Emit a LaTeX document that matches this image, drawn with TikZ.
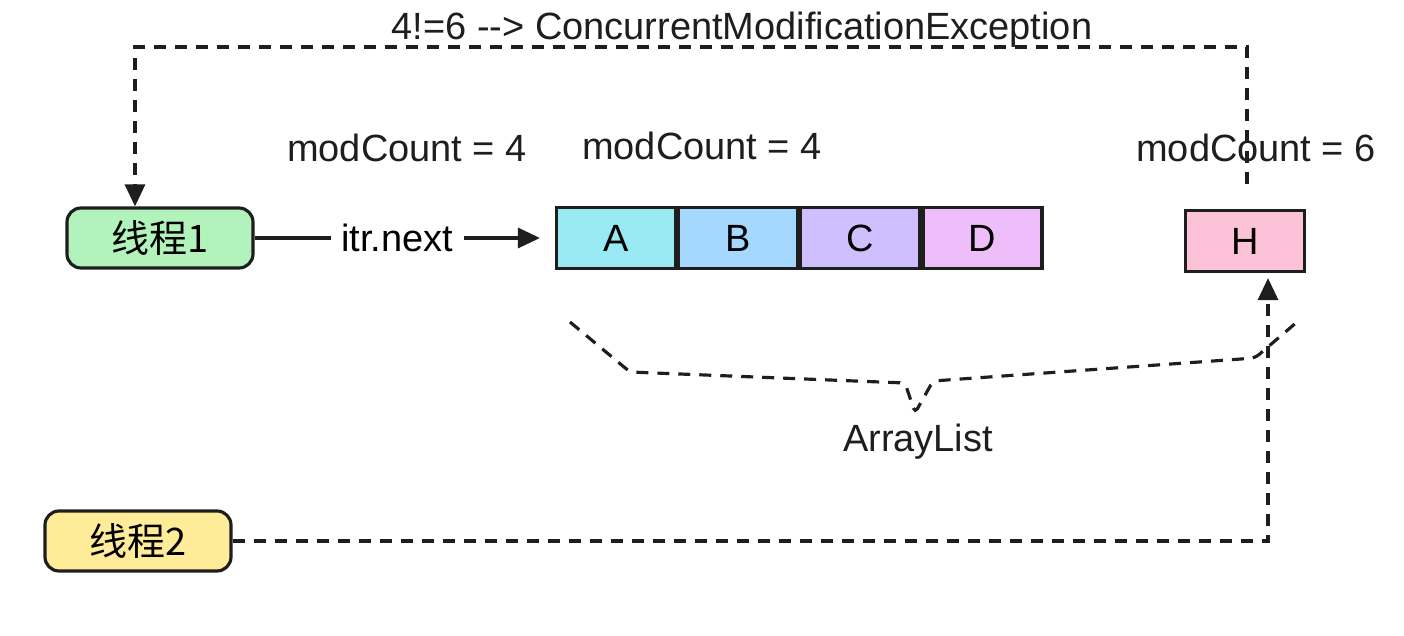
\documentclass[tikz,border=0pt]{standalone}
\usepackage{fontspec}
\setmainfont{Liberation Sans}
\newfontfamily\cjkfont{Noto Sans CJK SC}
\usetikzlibrary{arrows.meta,positioning}
\definecolor{ThreadGreen}{HTML}{B2F2BB}
\definecolor{ThreadYellow}{HTML}{FFEC99}
\definecolor{CellCyan}{HTML}{99E9F2}
\definecolor{CellBlue}{HTML}{A5D8FF}
\definecolor{CellViolet}{HTML}{D0BFFF}
\definecolor{CellPink}{HTML}{EEBEFA}
\definecolor{CellRose}{HTML}{FCC2D7}
\definecolor{StrokeInk}{HTML}{1E1E1E}

\begin{document}
\begin{tikzpicture}[
	font=\fontsize{10.8}{13}\selectfont,
	thread/.style={draw=StrokeInk, line width=0.9pt, rounded corners=1.4mm, minimum width=1.86cm, minimum height=0.60cm, inner sep=0pt, font=\fontsize{10.8}{13}\selectfont\cjkfont},
	cell/.style={draw=StrokeInk, line width=0.9pt, minimum width=1.19cm, minimum height=0.61cm, inner sep=0pt},
	call/.style={-{Triangle[length=2.2mm, width=2mm]}, draw=StrokeInk, line width=0.9pt},
	dashlink/.style={draw=StrokeInk, line width=0.9pt, dash pattern=on 1.2mm off 0.9mm},
	tag/.style={text=StrokeInk, inner sep=1pt}
]
\useasboundingbox (0,0) rectangle (14.04,-6.36);

\node[thread, fill=ThreadGreen] (thread1) at (1.60,-2.38) {线程1};
\node[thread, fill=ThreadYellow] (thread2) at (1.38,-5.41) {线程2};

\node[cell, fill=CellCyan] (cellA) at (6.16,-2.38) {A};
\node[cell, fill=CellBlue, right=0pt of cellA] (cellB) {B};
\node[cell, fill=CellViolet, right=0pt of cellB] (cellC) {C};
\node[cell, fill=CellPink, right=0pt of cellC] (cellD) {D};
\node[cell, fill=CellRose] (cellH) at (12.45,-2.41) {H};

\node[tag] (countold) at (4.07,-1.48) {modCount = 4};
\node[tag] (countlist) at (7.02,-1.46) {modCount = 4};
\node[tag] (countnew) at (12.56,-1.48) {modCount = 6};
\node[tag] (exception) at (7.42,-0.30) {4!=6 \mbox{-}\mbox{-}> ConcurrentModificationException};
\node[tag] (arraylist) at (9.18,-4.42) {ArrayList};

\coordinate (topright) at (12.47,-0.47);
\coordinate (topleft) at (1.35,-0.47);
\coordinate (h2) at (12.68,-2.41);

\draw[call] (thread1) -- node[fill=white, inner sep=3pt] (itrnext) {itr.next} ([xshift=-1.5mm]cellA.west);
\draw[dashlink, call] ([yshift=2.5mm]cellH.north -| topright) -- (topright) -- (topleft) -- (topleft |- thread1.north);
\draw[dashlink, call] (thread2.east) -| ([yshift=-0.5mm]h2 |- cellH.south);

% brace under the list
\draw[dashlink, rounded corners=0.5mm] (5.70,-3.22) -- (6.30,-3.72) -- (9.05,-3.83) -- (9.15,-4.13) -- (9.33,-3.81) -- (12.55,-3.58) -- (12.97,-3.22);
\end{tikzpicture}
\end{document}
